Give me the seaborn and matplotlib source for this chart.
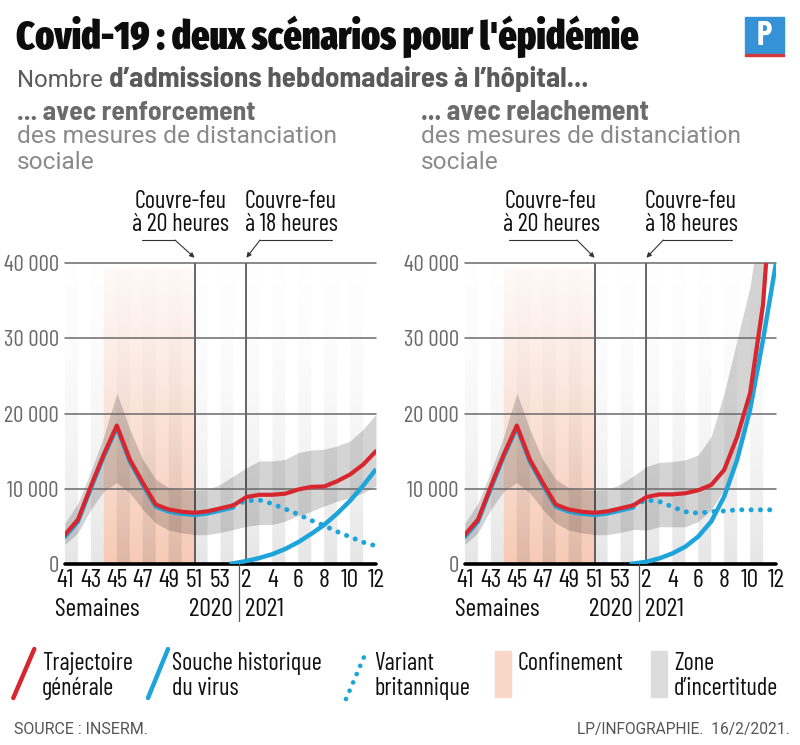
import numpy as np
import pandas as pd
import matplotlib
matplotlib.use("Agg")
import matplotlib.pyplot as plt
import matplotlib.transforms as mtransforms
from matplotlib.patches import Rectangle
import seaborn as sns

# ---------------- data ----------------
weeks = list(range(41, 54)) + list(range(1, 13))
idx = list(range(len(weeks)))
tick_weeks = [41, 43, 45, 47, 49, 51, 53, 2, 4, 6, 8, 10, 12]

# trajectoire générale (rouge)
red_left = [3900, 5900, 10350, 14600, 18400, 13900, 10800, 7900, 7250, 6950, 6800, 7000, 7400, 7800,
            8900, 9200, 9200, 9350, 9900, 10250, 10300, 11000, 11900, 13200, 15000]
red_right = [3900, 5900, 10350, 14600, 18400, 13900, 10800, 7900, 7250, 6950, 6800, 7000, 7400, 7800,
             8900, 9250, 9250, 9400, 9800, 10500, 12500, 16900, 22700, 34500, 58000]

# souche historique (bleu plein, nouvelle composante)
split_x = [12.7, 13, 14, 15, 16, 17, 18, 19, 20, 21, 22, 23, 24]
blue_left = [0, 80, 400, 800, 1300, 2000, 2900, 4000, 5200, 6700, 8400, 10400, 12600]
blue_right = [0, 50, 300, 750, 1400, 2300, 3650, 5650, 8950, 13850, 20500, 29800, 40000]

# variant britannique (pointillé)
var_x = [13, 14, 15, 16, 17, 18, 19, 20, 21, 22, 23, 24]
var_left = [7800, 8400, 8500, 8000, 7300, 6600, 5800, 5100, 4300, 3600, 2900, 2400]
var_right = [7800, 8500, 8300, 7600, 6950, 6750, 6950, 7050, 7200, 7200, 7200, 7200]

# zone d'incertitude
band_hi_left = [5450, 8100, 12350, 17000, 22700, 17900, 13900, 11250, 10150, 9900, 9800, 9900, 10600, 11700,
                12800, 13700, 13700, 13900, 14800, 15150, 15250, 15700, 16350, 17900, 19900]
band_lo_left = [2600, 4150, 7250, 9700, 10800, 9450, 7250, 5450, 4500, 4150, 3900, 3900, 4200, 4600,
                5000, 5250, 5250, 5700, 6450, 7000, 7700, 8350, 8800, 9450, 10350]
band_hi_right = band_hi_left[:14] + [12950, 13500, 13600, 13850, 14500, 16950, 22700, 29800, 36900, 48000, 60000]
band_lo_right = band_lo_left[:14] + [4500, 4950, 4950, 4950, 5650, 7200, 9850, 14700, 21800, 32400, 55000]

conf_start, conf_end = 3, 10          # confinement (index de semaine)
curfew_20h, curfew_18h = 10, 14       # couvre-feux
year_split = 13.43

# ---------------- style ----------------
sns.set_theme(style="white")
COND = ["Barlow Condensed", "Roboto Condensed", "Liberation Sans Narrow", "DejaVu Sans"]
TITLE = ["Fira Sans Extra Condensed", "Barlow Condensed", "DejaVu Sans"]
SEMI = ["Barlow Semi Condensed", "Roboto Condensed", "DejaVu Sans"]
REG = ["Roboto", "DejaVu Sans"]
plt.rcParams["font.family"] = COND

RED = "#d8262e"
BLUE = "#1da4db"
GRID = "#6a6a6a"

W, H = 800, 745
fig = plt.figure(figsize=(W / 100, H / 100), dpi=100)
fig.patch.set_facecolor("white")


def px_axes(x0, x1, ytop, ybot):
    return [x0 / W, 1 - ybot / H, (x1 - x0) / W, (ybot - ytop) / H]


def background(ax):
    nx, ny = 24 * 12, 240
    xs = (np.arange(nx) + 0.5) / nx * 24
    ys = (np.arange(ny) + 0.5) / ny * 40000
    t = ys / 40000
    img = np.ones((ny, nx, 3))
    pink = np.array([247, 203, 183]) / 255
    in_conf = ((xs >= conf_start) & (xs < conf_end)).astype(float)
    strength = (0.92 * (1 - t) ** 1.1 + 0.1) * (ys < 39100)
    for c in range(3):
        img[:, :, c] = 1 - strength[:, None] * in_conf[None, :] * (1 - pink[c])
    stripe = (np.floor(xs) % 2 == 0).astype(float)
    s = 0.095 * (1 - t) ** 1.8 + 0.003
    img *= (1 - stripe[None, :] * s[:, None])[:, :, None]
    ax.imshow(img, extent=[0, 24, 0, 40000], origin="lower", aspect="auto",
              zorder=0, interpolation="bilinear")


def draw_panel(ax, red, blue, var, hi, lo, ann):
    background(ax)
    ax.set_xlim(0, 24)
    ax.set_ylim(0, 40000)
    for sp in ax.spines.values():
        sp.set_visible(False)
    # band
    ax.fill_between(idx, lo, hi, color="black", alpha=0.17, lw=0, zorder=2)
    # curfew lines
    for xc in (curfew_20h, curfew_18h):
        ax.axvline(xc, color="#3c3c3c", lw=1.1, zorder=1.5)
    # grid
    for yv in (10000, 20000, 30000, 40000):
        ax.axhline(yv, color=GRID, lw=1.1, zorder=2.5, clip_on=False)
    ax.axhline(0, color="black", lw=2.6, zorder=3, clip_on=False)
    # early blue under red (slightly offset)
    sns.lineplot(x=idx[:14], y=red[:14], ax=ax, color=BLUE, lw=3.0, sort=False,
                 estimator=None, zorder=4, solid_joinstyle="round")
    off = mtransforms.ScaledTranslation(0, -1.6 / 72, fig.dpi_scale_trans)
    ax.lines[-1].set_transform(ax.transData + off)
    # variant dotted
    sns.lineplot(x=var_x, y=var, ax=ax, color=BLUE, lw=3.6, sort=False, estimator=None,
                 zorder=4.5, linestyle=(0, (0.01, 1.85)), dash_capstyle="round")
    # historic strain rising
    sns.lineplot(x=split_x, y=blue, ax=ax, color=BLUE, lw=3.2, sort=False, estimator=None,
                 zorder=5, solid_capstyle="butt", solid_joinstyle="round")
    # red general trajectory
    sns.lineplot(x=idx, y=red, ax=ax, color=RED, lw=3.0, sort=False, estimator=None, zorder=6,
                 solid_joinstyle="round")

    # ticks
    pos = [idx[weeks.index(w)] for w in tick_weeks]
    ax.set_xticks(pos)
    ax.set_xticklabels([str(w) for w in tick_weeks], fontsize=18.5, color="#111")
    ax.set_yticks([0, 10000, 20000, 30000, 40000])
    ax.set_yticklabels(["0", "10 000", "20 000", "30 000", "40 000"], fontsize=16.5, color="#6a6a6a")
    ax.tick_params(axis="x", length=0, pad=3.5)
    ax.tick_params(axis="y", length=0, pad=4.5)
    ax.set_xlabel("")
    ax.set_ylabel("")
    ax.grid(False)

    # year split & labels
    ax.plot([year_split, year_split], [0, -7600], color="#555", lw=0.9, clip_on=False, zorder=3)
    ax.text(-0.77, -6050, "Semaines", fontsize=18.5, ha="left", va="center", color="#111")
    ax.text(12.95, -6050, "2020", fontsize=18.5, ha="right", va="center", color="#111")
    ax.text(13.9, -6050, "2021", fontsize=18.5, ha="left", va="center", color="#111")

    # curfew annotations
    for (txt, tx, ux0, ux1, xt) in ann:
        ax.text(tx, 43550, txt, fontsize=17.5, ha="center", va="bottom", color="#111",
                linespacing=1.0, clip_on=False)
        ax.plot([ux0, ux1], [43050, 43050], color="#333", lw=0.8, clip_on=False)
        ax.annotate("", xy=(xt, 40700), xytext=(ux1, 43050), annotation_clip=False,
                    arrowprops=dict(arrowstyle="-|>", color="#333", lw=0.8,
                                    mutation_scale=7, shrinkA=0, shrinkB=0))


axL = fig.add_axes(px_axes(65, 376, 263, 564))
axR = fig.add_axes(px_axes(465, 776, 263, 564))

draw_panel(axL, red_left, blue_left, var_left, band_hi_left, band_lo_left,
           [("Couvre-feu\nà 20 heures", 8.95, 5.94, 8.49, curfew_20h),
            ("Couvre-feu\nà 18 heures", 17.44, 20.6, 15.05, curfew_18h)])
draw_panel(axR, red_right, blue_right, var_right, band_hi_right, band_lo_right,
           [("Couvre-feu\nà 20 heures", 6.64, 3.43, 8.64, curfew_20h),
            ("Couvre-feu\nà 18 heures", 17.44, 20.6, 15.3, curfew_18h)])

# ---------------- overlay (pixel coords) ----------------
ov = fig.add_axes([0, 0, 1, 1], zorder=-5)
ov.set_xlim(0, W)
ov.set_ylim(H, 0)
ov.axis("off")
ov.patch.set_alpha(0)

renderer = fig.canvas.get_renderer()


def fit(t, width):
    w = t.get_window_extent(renderer).width
    t.set_fontsize(t.get_fontsize() * width / w)


def right_edge(t):
    bb = t.get_window_extent(renderer)
    return ov.transData.inverted().transform((bb.x1, bb.y0))[0]


title = ov.text(16, 49, "Covid-19 : deux scénarios pour l'épidémie", fontsize=30,
                fontweight=900, color="#0d0d0d", ha="left", va="baseline", family=TITLE)
fit(title, 624)

s1 = ov.text(17, 87, "Nombre ", fontsize=17, color="#5a5a5a", ha="left", va="baseline",
             family=REG)
fit(s1, 92)
s2 = ov.text(right_edge(s1), 87, "d\u2019admissions hebdomadaires à l\u2019hôpital...", fontsize=17,
             fontweight="bold", color="#5a5a5a", ha="left", va="baseline", family=SEMI)
fit(s2, 590 - right_edge(s1))

for x0, head, w_head in ((17, "... avec renforcement", 238), (421, "... avec relachement", 228)):
    h = ov.text(x0, 120, head, fontsize=17, fontweight="bold", color="#6b6b6b",
                ha="left", va="baseline", family=SEMI)
    fit(h, w_head)
    d = ov.text(x0, 143, "des mesures de distanciation", fontsize=17, color="#8a8a8a",
                ha="left", va="baseline", family=REG)
    fit(d, 320)
    ov.text(x0, 169, "sociale", fontsize=d.get_fontsize(), color="#8a8a8a",
            ha="left", va="baseline", family=REG)

# logo
ov.add_patch(Rectangle((745, 17), 39, 36, color="#3592d6", zorder=1))
ov.add_patch(Rectangle((745, 53.5), 39, 2.6, color="#d33a3f", zorder=1))
ov.text(764.5, 36, "P", fontsize=24, fontweight="bold", color="white", ha="center",
        va="center", family=COND, zorder=2)

# legend
LEG = 17.5
ov.plot([13.3, 34.3], [698, 649], color=RED, lw=3.2, solid_capstyle="round")
ov.text(42, 670, "Trajectoire", fontsize=LEG, ha="left", va="baseline", color="#111")
ov.text(42, 695, "générale", fontsize=LEG, ha="left", va="baseline", color="#111")
ov.plot([148, 168], [698, 649], color=BLUE, lw=3.2, solid_capstyle="round")
ov.text(172, 670, "Souche historique", fontsize=LEG, ha="left", va="baseline", color="#111")
ov.text(172, 695, "du virus", fontsize=LEG, ha="left", va="baseline", color="#111")
ov.plot([346, 367], [699, 650], color=BLUE, lw=3.4, linestyle=(0, (0.01, 1.9)),
        dash_capstyle="round")
ov.text(374, 670, "Variant", fontsize=LEG, ha="left", va="baseline", color="#111")
ov.text(374, 695, "britannique", fontsize=LEG, ha="left", va="baseline", color="#111")
ov.add_patch(Rectangle((495, 651), 16, 46, color="#f9d6c7"))
ov.text(518, 670, "Confinement", fontsize=LEG, ha="left", va="baseline", color="#111")
ov.add_patch(Rectangle((651, 651), 16, 46, color="#dcdcdc"))
ov.text(674, 670, "Zone", fontsize=LEG, ha="left", va="baseline", color="#111")
ov.text(674, 695, "d\u2019incertitude", fontsize=LEG, ha="left", va="baseline", color="#111")

# footer
f1 = ov.text(14, 734, "SOURCE : INSERM.", fontsize=12, color="#555", ha="left", va="baseline",
             family=REG)
fit(f1, 134)
f2 = ov.text(790, 734, "LP/INFOGRAPHIE.  16/2/2021.", fontsize=12, color="#555", ha="right",
             va="baseline", family=REG)
fit(f2, 212)

fig.savefig("out.png", dpi=100, facecolor="white")
